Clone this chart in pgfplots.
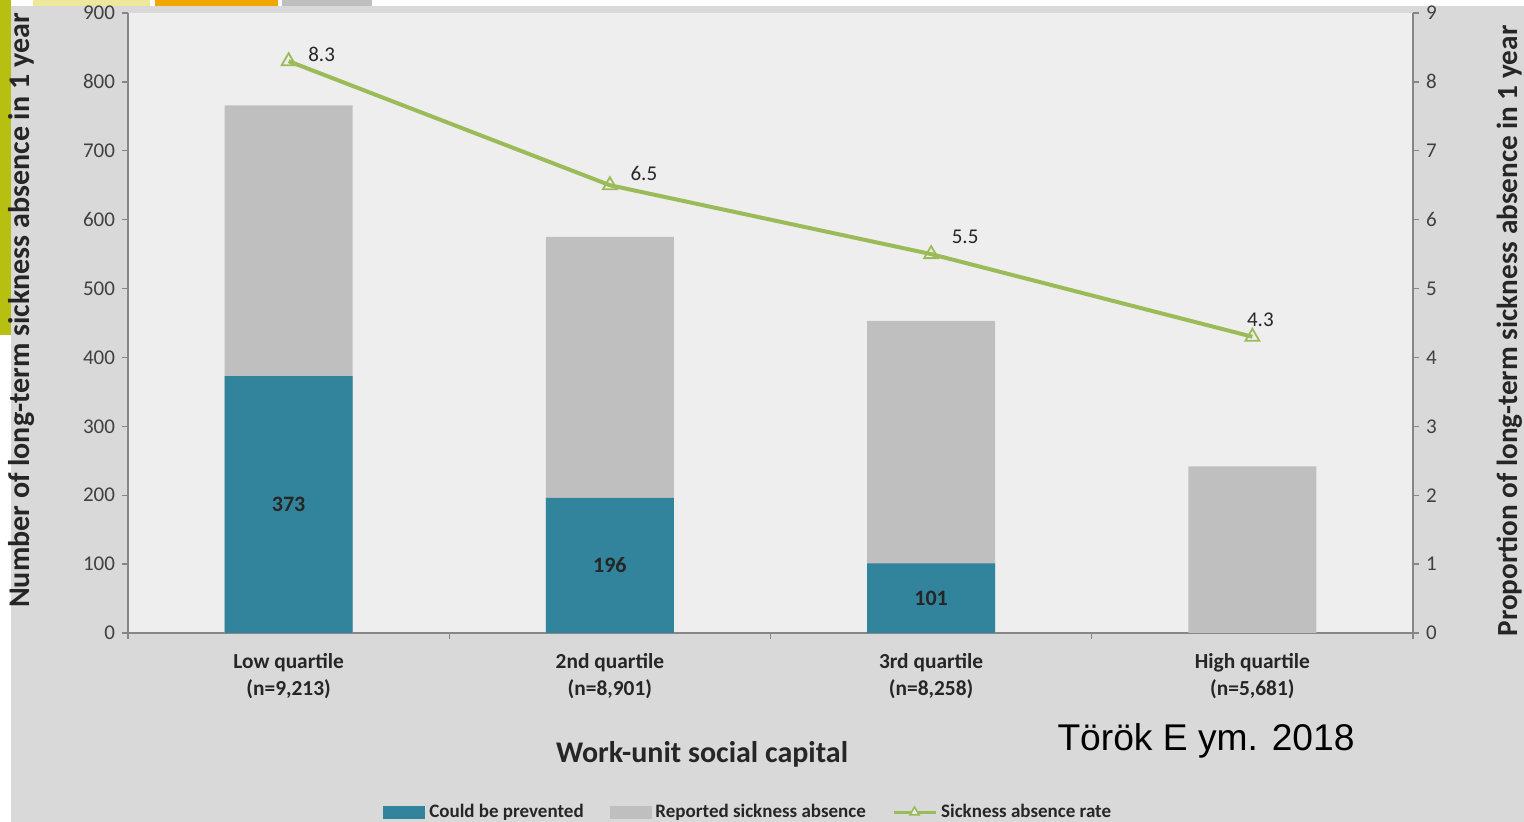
\documentclass[border=0pt]{standalone}
\usepackage{fontspec}
\setmainfont{Carlito}
\newfontfamily\arialfont{Liberation Sans}
\usepackage{pgfplots}
\usepackage{pgfplotstable}
\pgfplotsset{compat=1.18}
\definecolor{outerbg}{HTML}{D9D9D9}
\definecolor{plotbg}{HTML}{EEEEEE}
\definecolor{tealbar}{HTML}{31849B}
\definecolor{graybar}{HTML}{BFBFBF}
\definecolor{linegreen}{HTML}{9BBB59}
\definecolor{axisgray}{HTML}{868686}
\definecolor{ticktext}{HTML}{404040}
\definecolor{labtext}{HTML}{262626}
\definecolor{olivebar}{HTML}{B7BF10}
\definecolor{tabyellow}{HTML}{EEE89C}
\definecolor{taborange}{HTML}{F0A800}

\pgfplotstableread{
x total
0 766
1 575
2 453
3 242
}\totaltable
\pgfplotstableread{
x prevented
0 373
1 196
2 101
}\preventtable
\pgfplotstableread{
x rate lab xs ys
0 8.3 8.3 16.5 3.5
1 6.5 6.5 17 6
2 5.5 5.5 17 8.5
3 4.3 4.3 4 8.5
}\ratetable

\begin{document}
\begin{tikzpicture}
\useasboundingbox (0,0) rectangle (762pt,411pt);
\fill[white] (0,0) rectangle (762pt,411pt);
\fill[outerbg] (5.5pt,0) rectangle (762pt,408pt);
\fill[olivebar] (0,243.5pt) rectangle (5.5pt,411pt);
\fill[tabyellow] (16.5pt,408pt) rectangle (75pt,411pt);
\fill[taborange] (77.5pt,408pt) rectangle (139pt,411pt);
\fill[graybar] (141pt,408pt) rectangle (186pt,411pt);

\begin{axis}[
  at={(64pt,94.5pt)}, anchor=south west, scale only axis,
  width=642.5pt, height=310pt,
  xmin=-0.5, xmax=3.5, ymin=0, ymax=900,
  axis background/.style={fill=plotbg},
  axis x line*=bottom, axis y line*=left,
  axis line style={draw=axisgray, line width=0.7pt, -},
  tick style={draw=axisgray, line width=0.7pt},
  tick align=outside, major tick length=3pt,
  ytick={0,100,...,900},
  /pgf/number format/assume math mode=true,
  yticklabel style={font=\fontsize{10.5}{12}\selectfont, text=ticktext},
  xtick={-0.5,0.5,1.5,2.5,3.5}, xticklabels={},
  extra x ticks={0,1,2,3},
  extra x tick labels={{Low quartile\\(n=9,213)},{2nd quartile\\(n=8,901)},{3rd quartile\\(n=8,258)},{High quartile\\(n=5,681)}},
  extra x tick style={major tick length=0pt},
  xticklabel style={align=center, font=\bfseries\fontsize{10.7}{13.5}\selectfont, text=labtext, yshift=-6.5pt},
  ylabel={Number of long-term sickness absence in 1 year},
  ylabel style={at={(rel axis cs:-0.0825,0.52)}, anchor=center, font=\bfseries\fontsize{15}{18}\selectfont, text=labtext},
  xlabel={Work-unit social capital},
  xlabel style={at={(rel axis cs:0.4467,-0.195)}, anchor=center, font=\bfseries\fontsize{15}{18}\selectfont, text=labtext},
  legend style={at={(rel axis cs:0.4835,-0.289)}, anchor=center, draw=none, fill=none,
    legend columns=3, font=\bfseries\fontsize{9.5}{11}\selectfont, text=labtext,
    /tikz/every even column/.append style={column sep=11pt}},
  legend cell align=left,
]
\addplot[ybar, bar width=64pt, bar shift=0pt, fill=graybar, draw=none, forget plot]
  table[x=x, y=total] {\totaltable};
\addplot[ybar, bar width=64pt, bar shift=0pt, fill=tealbar, draw=none, forget plot,
  visualization depends on={y \as \rawy},
  nodes near coords,
  every node near coord/.append style={anchor=center, yshift=-0.172222*\rawy pt,
    font=\bfseries\fontsize{11}{13}\selectfont, text=labtext}]
  table[x=x, y=prevented] {\preventtable};
\addlegendimage{legend image code/.code={\fill[tealbar] (0pt,-3pt) rectangle (20.5pt,3pt);}}
\addlegendentry{Could be prevented}
\addlegendimage{legend image code/.code={\fill[graybar] (0pt,-3pt) rectangle (20.5pt,3pt);}}
\addlegendentry{Reported sickness absence}
\addlegendimage{legend image code/.code={\draw[linegreen, line width=1.6pt] (0pt,0pt) -- (21pt,0pt);
  \draw[linegreen, line width=0.8pt, fill=plotbg] (10.5pt,0pt) +(90:2.6pt) -- +(210:2.6pt) -- +(330:2.6pt) -- cycle;}}
\addlegendentry{Sickness absence rate}
\end{axis}

\begin{axis}[
  at={(64pt,94.5pt)}, anchor=south west, scale only axis,
  width=642.5pt, height=310pt,
  xmin=-0.5, xmax=3.5, ymin=0, ymax=9,
  axis x line=none, axis y line*=right,
  axis line style={draw=axisgray, line width=0.7pt, -},
  tick style={draw=axisgray, line width=0.7pt},
  tick align=outside, major tick length=3pt,
  ytick={0,1,...,9},
  /pgf/number format/assume math mode=true,
  yticklabel style={font=\fontsize{10.5}{12}\selectfont, text=ticktext},
  ylabel={Proportion of long-term sickness absence in 1 year},
  ylabel style={at={(rel axis cs:1.0755,0.487)}, anchor=center, inner sep=0pt, font=\bfseries\fontsize{14.6}{17}\selectfont, text=labtext},
]
\addplot[linegreen, line width=2pt, mark=triangle, mark size=4pt,
  mark options={fill=plotbg, line width=0.9pt},
  visualization depends on={\thisrow{xs} \as \lxs},
  visualization depends on={\thisrow{ys} \as \lys},
  point meta=explicit symbolic,
  nodes near coords,
  every node near coord/.append style={anchor=center, xshift=\lxs pt, yshift=\lys pt,
    font=\fontsize{10.5}{12}\selectfont, text=labtext}]
  table[x=x, y=rate, meta=lab] {\ratetable};
\end{axis}

\node[font=\arialfont\fontsize{18.6}{22}\selectfont, text=black] at (603pt,40.5pt) {Török E ym. 2018};
\end{tikzpicture}
\end{document}
